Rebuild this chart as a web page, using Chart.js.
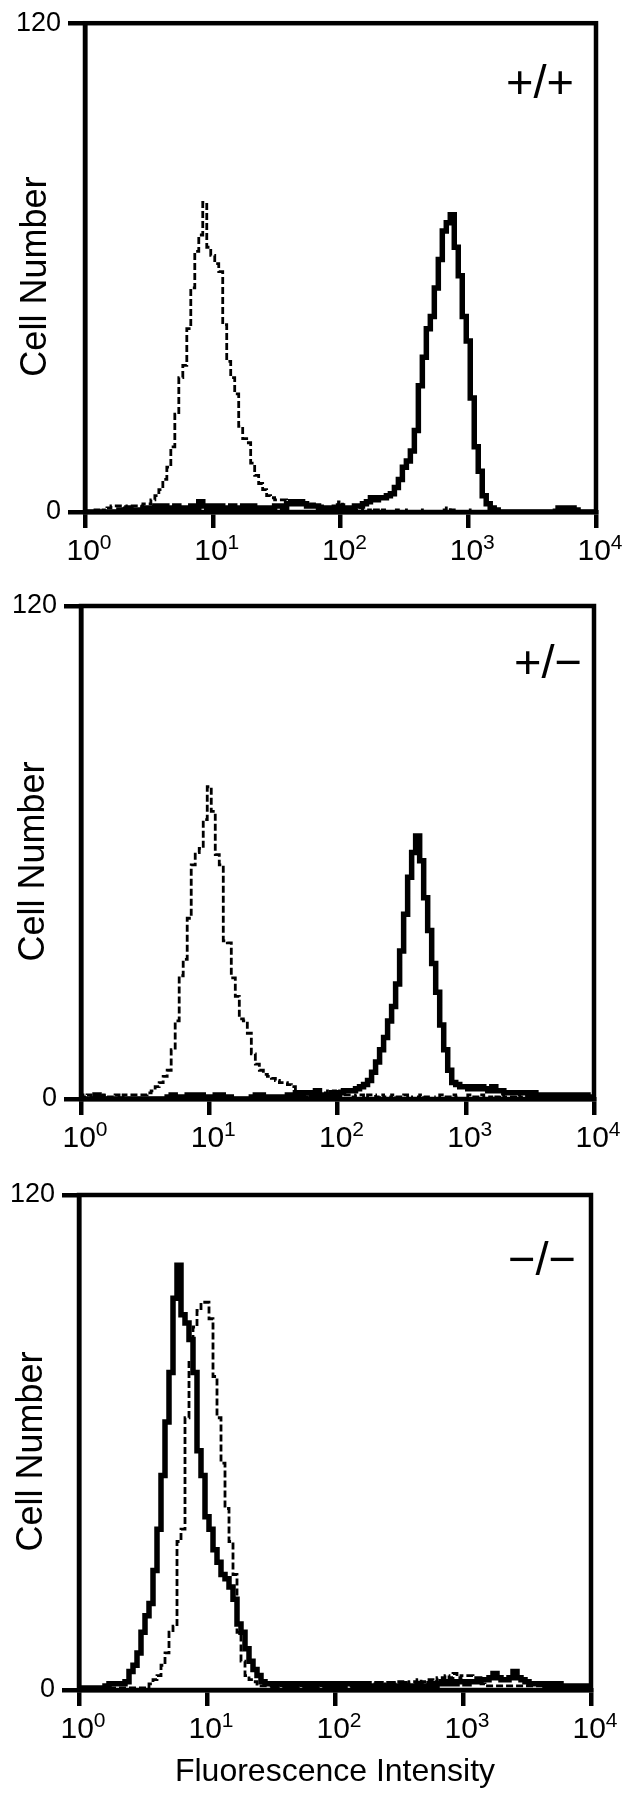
<!DOCTYPE html>
<html>
<head>
<meta charset="utf-8">
<script src="https://cdn.jsdelivr.net/npm/chart.js@4.4.1/dist/chart.umd.min.js"></script>
<style>
html, body { margin: 0; padding: 0; background: #fff; }
#wrap { position: relative; width: 625px; height: 1800px; overflow: hidden; background: #fff; }
canvas { position: absolute; left: 0; }
</style>
</head>
<body>
<div id="wrap">
  <canvas id="c1" width="625" height="580" style="top:0px"></canvas>
  <canvas id="c2" width="625" height="580" style="top:580px"></canvas>
  <canvas id="c3" width="625" height="640" style="top:1160px"></canvas>
</div>
<script>
// ---------------- data ----------------
const CHANNELS_PER_DECADE = 32;           // histogram bins per log decade
const xTickValues = [1, 10, 100, 1000, 10000];
const xTickExponents = ['0', '1', '2', '3', '4'];
const yTickValues = [0, 120];
const genotypes = ['+/+', '+/\u2212', '\u2212/\u2212'];
const yTitle = 'Cell Number';
const xTitle = 'Fluorescence Intensity';

// +/+ : dashed (control) and solid (stained) histograms, one value per bin
const wtControl = [
  0,0,0,0.5,0,0.5,1,1.5,1.5,1.5,1,1.5,1.5,1.5,1.5,2,
  2,3,4,5.5,8,11,16,24,33,36,45,55,64,68,76,65,
  63,61,59,46,37,33,29,21,18,17,12,9,7,5.5,4,3.5,
  3,3,3,2.5,2,2,2.5,2,1.5,2,1.5,1.5,1,1,1.5,1,
  2.5,1,0.5,1,0.5,1,0.5,0.5,0,0.5,0,0.5,0,0,0.5,0,
  0,0.5,0,0,0,0.5,0,0,0,0,0.5,1,0.5,0,0,0,
  0,0.5,0,0,0,0,0,0,0,0,0,0,0,0,0,0,
  0,0,0,0,0,0,0.5,1,0.5,0,1,0.5,0,0,0,0,
  0
];
const wtStained = [
  0,0,0,0,0,0,0,0,0,0.5,0.5,1,0.5,0,0.5,1,
  0.5,1,1.5,1,1.5,1,1,1.5,1,1,1,1.5,1,2.5,1.5,1,
  1.5,1,1.5,1,1,1.5,1,1,1.5,1,1.5,1,1,1,1,1,
  1.5,1.5,1,2,2.5,2,2.5,2,1.5,1.5,1.5,1,1,1,1,1,
  1.5,1,1,1,1.5,1.5,2,2.5,3.5,3,3.5,3.5,4,4.5,6,8,
  11,12.5,15,20,31,38,45,48,55,62,69,71,73,65,58,48,
  42,28,16,10,4,2,1,0.5,0,0,0,0,0,0,0,0,
  0,0,0,0,0,0,0,1,0.5,1,1,0.5,0,0,0,0,
  0
];

// +/-
const hetControl = [
  1,0.5,1,0.5,0,0.5,1,0.5,0.5,1,0.5,1,1,1,1,1,
  1,1.5,2,3,4,5.5,7,12,19,30,34,44,57,60,61,68,
  76,70,59.5,57,38.5,38,29.5,25,19.5,19,16,11,8.5,7,6,5.5,
  5,4.5,4,4,3.5,3,1,1,0.5,1,0.5,1,1,1.5,2,2,
  1.5,2,1,1,0.5,1,1,0.5,1,1,0.5,1,0.5,0.5,1,0.5,
  0.5,1,0.5,0,0.5,1,0.5,0.5,0,0.5,1,0.5,0.5,1,0.5,0,
  0.5,1,0.5,0.5,1,0.5,0.5,0,0.5,1,0.5,0.5,0.5,1,0.5,0.5,
  1,0.5,0.5,1,0.5,0.5,0.5,1,0.5,0,0.5,0.5,1,0.5,0.5,0,
  0
];
const hetStained = [
  0,0,0,0,1,0.5,0,0,0,0,0,0,0,0,0,0,
  0,0,0,0,0,0,0.5,1,0.5,0,0.5,1,1,0.5,1,0.5,
  0.5,0.5,1,1,0.5,0.5,0,0,0,0,0,0.5,1,1,0.5,0.5,
  0.5,0.5,0.5,0.5,1,1,1.5,1,1.5,1.5,1,2,1,1,1,1.5,
  1,1.5,2,2,2,2.5,3,3.5,4.5,6.5,9,12,15,19,22.5,28,
  36,45,54,60,64,58,49,41,33,26,18,12,7,4,3.5,3,
  3,2.5,3,2.5,3,2.5,2,3,2,2,1.5,1.5,1.5,1.5,1.5,1.5,
  1,1.5,1,1,1,1,1,1,1,1,1,0.5,1,0.5,1,0.5,
  0
];

// -/-
const koControl = [
  0.5,0.5,0.5,0.5,0.5,0.5,0.5,0.5,0.5,0.5,0.5,0.5,0.5,0.5,0.5,0.5,
  0.5,0.5,1.5,2.5,3.5,6,9,14,15.5,36,39,66,80,88,92,94,
  94,90,76,66,55,44,36,28,14,7,3.5,2.5,2,1,1,1,
  1,1,1,1,1,1,1,1,1,1,1,1,1,1,1,1,
  1,1,1,1,1,1,1.5,1.5,1,1.5,1.5,1.5,1.5,1,1.5,1.5,
  2,2,1.5,2,2,2.5,2,2,2.5,2,3,3,3.5,3,4,3,
  3.5,3.5,3.5,3,3,1.5,1,1,1,1,1,1,1,1,1,1,
  1,1,1,1,1,1,1,1,1,1,1,0.5,1,1,0.5,1,
  1
];
const koStained = [
  0.5,0.5,0.5,0.5,0.5,0.5,0.5,1,1.5,1.5,1.5,1.5,2,4.5,6,9,
  14,18,21,29,39,52,65,77,95,103,91,89,85,77,58,52,
  42,39,34,31,28,27,25,22,16,14,10,7,5,3.5,2,1.5,
  1.5,1,1.5,1.5,1,1.5,1,1.5,1.5,1,1.5,1,1.5,1.5,1,1.5,
  1,1.5,1,1.5,1.5,1,1.5,1,1.5,1,1,1.5,1,1,1.5,1,
  1,1.5,1,1,1,1.5,1,1,1.5,1,1.5,2,1.5,2,1.5,2,
  2,1.5,2,2,2,2.5,2.5,3,4,3,2.5,2.5,3,4.5,3,2.5,
  2,1.5,1.5,1.5,1.5,1,1.5,1,1.5,1,1,1,1,1,0.5,1,
  1
];

const panelSeries = [
  [wtControl, wtStained],
  [hetControl, hetStained],
  [koControl, koStained]
];

// ---------------- layout / style ----------------
const FONT = "'Liberation Sans', Arial, Helvetica, sans-serif";
const layouts = [
  { canvas: 'c1', h: 580, top: 19, bottom: 512, left: 85, right: 596, labelDx: 56, labelDy: 62, yTitleDx: 49, xTitle: false },
  { canvas: 'c2', h: 580, top: 26, bottom: 519, left: 81, right: 594, labelDx: 46, labelDy: 59, yTitleDx: 47, xTitle: false },
  { canvas: 'c3', h: 640, top: 35, bottom: 530, left: 79, right: 591, labelDx: 49, labelDy: 67, yTitleDx: 47, xTitle: true }
];

function toPoints(values) {
  return values.map((v, i) => ({ x: Math.pow(10, i / CHANNELS_PER_DECADE), y: v }));
}

const decorPlugin = {
  id: 'decor',
  afterDraw(chart, args, opts) {
    const { ctx, chartArea: a, scales } = chart;
    ctx.save();
    // frame
    ctx.strokeStyle = '#000';
    ctx.lineWidth = 4.5;
    ctx.strokeRect(a.left, a.top, a.right - a.left, a.bottom - a.top);
    // x tick labels 10^n
    ctx.fillStyle = '#000';
    ctx.textAlign = 'left';
    ctx.textBaseline = 'alphabetic';
    const xs = scales.x;
    xTickValues.forEach((v, k) => {
      const px = xs.getPixelForValue(v);
      ctx.font = '30px ' + FONT;
      const w1 = ctx.measureText('10').width;
      ctx.font = '21px ' + FONT;
      const w2 = ctx.measureText(xTickExponents[k]).width;
      const x0 = px + 4 - (w1 + w2) / 2;
      ctx.font = '30px ' + FONT;
      ctx.fillText('10', x0, a.bottom + 48);
      ctx.font = '21px ' + FONT;
      ctx.fillText(xTickExponents[k], x0 + w1, a.bottom + 37);
    });
    // y axis title
    ctx.save();
    ctx.translate(a.left - opts.yTitleDx, (a.top + a.bottom) / 2 + 9);
    ctx.rotate(-Math.PI / 2);
    ctx.font = '36px ' + FONT;
    ctx.textAlign = 'center';
    ctx.textBaseline = 'middle';
    ctx.fillText(yTitle, 0, 0);
    ctx.restore();
    // genotype label
    ctx.font = '47px ' + FONT;
    ctx.textAlign = 'center';
    ctx.textBaseline = 'middle';
    ctx.fillText(opts.label, a.right - opts.labelDx, a.top + opts.labelDy);
    ctx.restore();
  }
};

layouts.forEach((L, p) => {
  const [control, stained] = panelSeries[p];
  new Chart(document.getElementById(L.canvas), {
    type: 'line',
    data: {
      datasets: [
        { data: toPoints(control), borderColor: '#000', borderWidth: 2.8, borderDash: [7, 3],
          pointRadius: 0, stepped: 'middle', fill: false, tension: 0 },
        { data: toPoints(stained), borderColor: '#000', borderWidth: 5.5,
          pointRadius: 0, stepped: 'middle', fill: false, tension: 0 }
      ]
    },
    options: {
      responsive: false,
      devicePixelRatio: 1,
      animation: false,
      events: [],
      layout: { padding: { top: L.top, right: 625 - L.right, left: 0, bottom: 0 } },
      plugins: {
        legend: { display: false },
        tooltip: { enabled: false },
        decor: { label: genotypes[p], labelDx: L.labelDx, labelDy: L.labelDy, yTitleDx: L.yTitleDx }
      },
      scales: {
        x: {
          type: 'logarithmic', min: 1, max: 10000,
          afterBuildTicks: s => { s.ticks = xTickValues.map(v => ({ value: v })); },
          afterFit: s => { s.height = L.h - L.bottom; },
          grid: { drawOnChartArea: false, drawTicks: true, tickLength: 16, lineWidth: 4.5, color: '#000' },
          border: { display: true, width: 4.5, color: '#000' },
          ticks: { display: false },
          title: { display: L.xTitle, text: xTitle, color: '#000',
                   font: { size: 32, family: FONT, lineHeight: 1 }, padding: { top: 0, bottom: 12 } }
        },
        y: {
          type: 'linear', min: 0, max: 120,
          afterBuildTicks: s => { s.ticks = yTickValues.map(v => ({ value: v })); },
          afterFit: s => { s.width = L.left; },
          grid: { drawOnChartArea: false, drawTicks: true, tickLength: 17, lineWidth: 4.5, color: '#000' },
          border: { display: true, width: 4.5, color: '#000' },
          ticks: { color: '#000', font: { size: 27, family: FONT }, padding: 7 },
          title: { display: false }
        }
      }
    },
    plugins: [decorPlugin]
  });
});
</script>
</body>
</html>
